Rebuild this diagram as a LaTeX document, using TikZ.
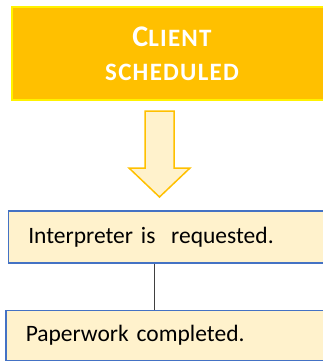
\documentclass[tikz,border=0pt]{standalone}
\usepackage{fontspec}
\setmainfont{Carlito}
\usepackage{xcolor}
\usetikzlibrary{positioning}

\definecolor{gold}{HTML}{FFC000}
\definecolor{cream}{HTML}{FFF2CC}
\definecolor{boxblue}{HTML}{4472C4}
\definecolor{linegray}{HTML}{404040}

\tikzset{
    headbox/.style={draw=yellow, line width=2pt, fill=gold, text=white,
        font=\bfseries\addfontfeature{LetterSpace=5}\fontsize{25}{34}\selectfont,
        minimum width=320pt, minimum height=93pt, align=center, inner sep=0pt},
    stepbox/.style={draw=boxblue, line width=1.5pt, fill=cream,
        font=\fontsize{23.5}{28}\selectfont, align=left},
    bigarrow/.style={draw=gold, line width=1.5pt, fill=cream, line join=miter},
    link/.style={draw=linegray, line width=1pt}
}

\begin{document}
\begin{tikzpicture}[x=1pt, y=-1pt]
    \useasboundingbox (0,0) rectangle (323,362);

    % Header box
    \node[headbox, anchor=north west] (client) at (11,6)
        {{\fontsize{30}{34}\selectfont C}LIENT\\SCHEDULED};

    % Steps
    \node[stepbox, anchor=north west, minimum width=330pt, minimum height=52pt,
          text width=290pt, inner xsep=20pt] (request) at (7.5,210)
        {Interpreter is~~requested.};
    \node[stepbox, anchor=north west, minimum width=330pt, minimum height=50pt,
          text width=290pt, inner xsep=20pt] (paper) at (5,309.5)
        {Paperwork completed.};

    % Block arrow
    \coordinate (arrowtop) at (159.5,111);
    \draw[bigarrow] (arrowtop) ++(-14.5,0) -- ++(0,57) -- ++(-16,0)
        -- ++(30.5,29) -- ++(30.5,-29) -- ++(-16,0) -- ++(0,-57) -- cycle;

    % Connector
    \draw[link] ([xshift=147pt]request.south west)
        -- ([xshift=147pt]request.south west |- paper.north);
\end{tikzpicture}
\end{document}
